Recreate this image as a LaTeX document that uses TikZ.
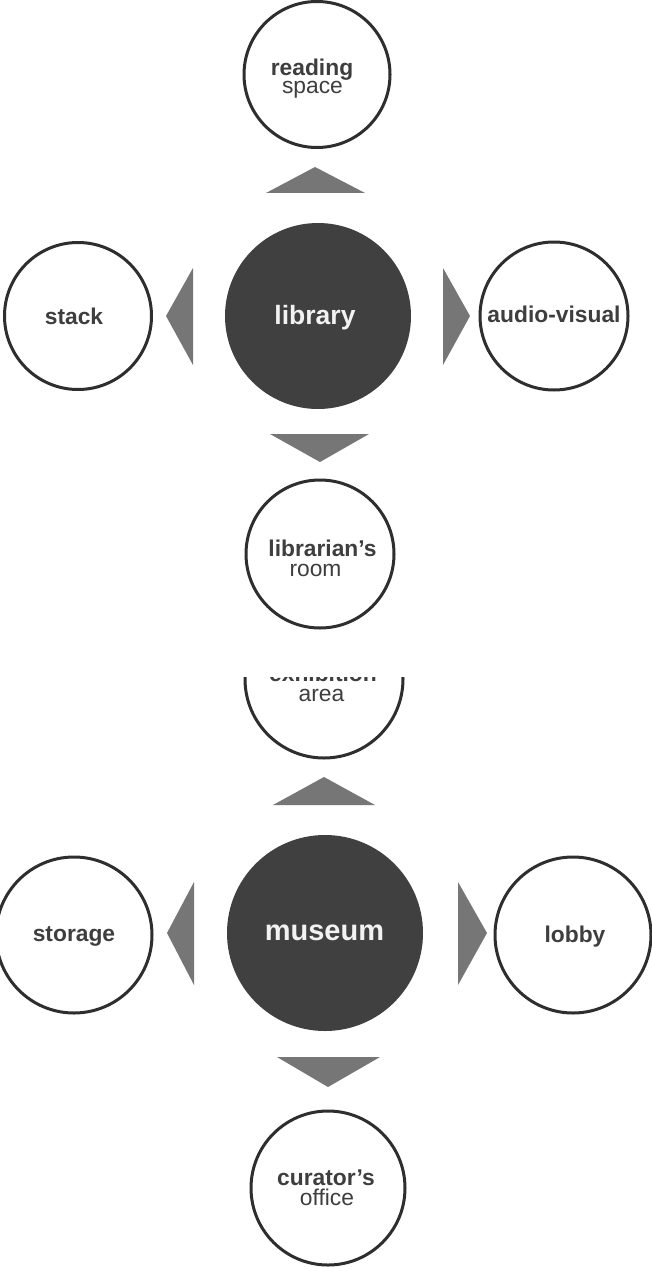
\documentclass[tikz,border=0pt]{standalone}
\usepackage{fontspec}
\setmainfont{Liberation Sans}
\definecolor{hubfill}{HTML}{404040}
\definecolor{trifill}{HTML}{767676}
\definecolor{ringcol}{HTML}{2E2E2E}
\definecolor{txtcol}{HTML}{3E3E3E}
\definecolor{hubtxt}{HTML}{F2F2F2}
\begin{document}
\begin{tikzpicture}[x=1pt,y=-1pt,
  ringnode/.style={circle,draw=ringcol,line width=3pt,fill=white,inner sep=0pt,minimum size=#1},
  hubnode/.style={circle,fill=hubfill,inner sep=0pt,minimum size=#1},
  boldlbl/.style={anchor=base,inner sep=0pt,text=txtcol,font=\fontsize{22.8}{22}\selectfont\bfseries},
  reglbl/.style={anchor=base,inner sep=0pt,text=txtcol,font=\fontsize{22.8}{22}\selectfont},
  hublbl/.style={anchor=base,inner sep=0pt,text=hubtxt,font=\fontsize{#1}{#1}\selectfont\bfseries},
  tri/.style={fill=trifill}]
\useasboundingbox (0,0) rectangle (652,1268);
\fill[white] (0,0) rectangle (652,1268);

% ---------- library group ----------
\node[ringnode=146pt] (reading) at (317,74.5) {};
\node[boldlbl] (readingA) at (312,76) {reading};
\node[reglbl]  (readingB) at (312.5,94) {space};

\fill[tri] (315,167) -- (365,193) -- (266,193) -- cycle;

\node[hubnode=186pt] (library) at (318,316) {};
\node[hublbl=26.5] (libraryT) at (315,324) {library};

\node[ringnode=147pt] (stack) at (78,316) {};
\node[boldlbl] (stackT) at (74,324) {stack};
\fill[tri] (166,316) -- (193,268) -- (193,365) -- cycle;

\node[ringnode=148pt] (av) at (554,316) {};
\node[boldlbl] (avT) at (554,322.7) {audio-visual};
\fill[tri] (470,316) -- (443,268) -- (443,365) -- cycle;

\fill[tri] (270,434) -- (369,434) -- (320,462) -- cycle;

\node[ringnode=148pt] (librarian) at (320,554) {};
\node[boldlbl] (librarianA) at (322.5,556) {librarian’s};
\node[reglbl]  (librarianB) at (315.5,576) {room};

% ---------- museum group ----------
\begin{scope}
  \clip (0,677) rectangle (652,1268);
  \node[ringnode=158pt] (exhibition) at (324,679) {};
  \node[boldlbl] (exhibitionA) at (323,681) {exhibition};
  \node[reglbl]  (exhibitionB) at (321.5,701) {area};
\end{scope}

\fill[tri] (324,777) -- (375,805) -- (273,805) -- cycle;

\node[hubnode=196pt] (museum) at (325,933) {};
\node[hublbl=29] (museumT) at (324.5,940) {museum};

\node[ringnode=156pt] (storage) at (74,935) {};
\node[boldlbl] (storageT) at (74,941.7) {storage};
\fill[tri] (167,933) -- (194,882) -- (194,985) -- cycle;

\node[ringnode=156pt] (lobby) at (573,935) {};
\node[boldlbl] (lobbyT) at (575,942.7) {lobby};
\fill[tri] (487,933) -- (458,882) -- (458,985) -- cycle;

\fill[tri] (277,1057) -- (380,1057) -- (328,1087) -- cycle;

\node[ringnode=154pt] (curator) at (328,1188) {};
\node[boldlbl] (curatorA) at (326,1185) {curator’s};
\node[reglbl]  (curatorB) at (327,1205) {office};
\end{tikzpicture}
\end{document}
